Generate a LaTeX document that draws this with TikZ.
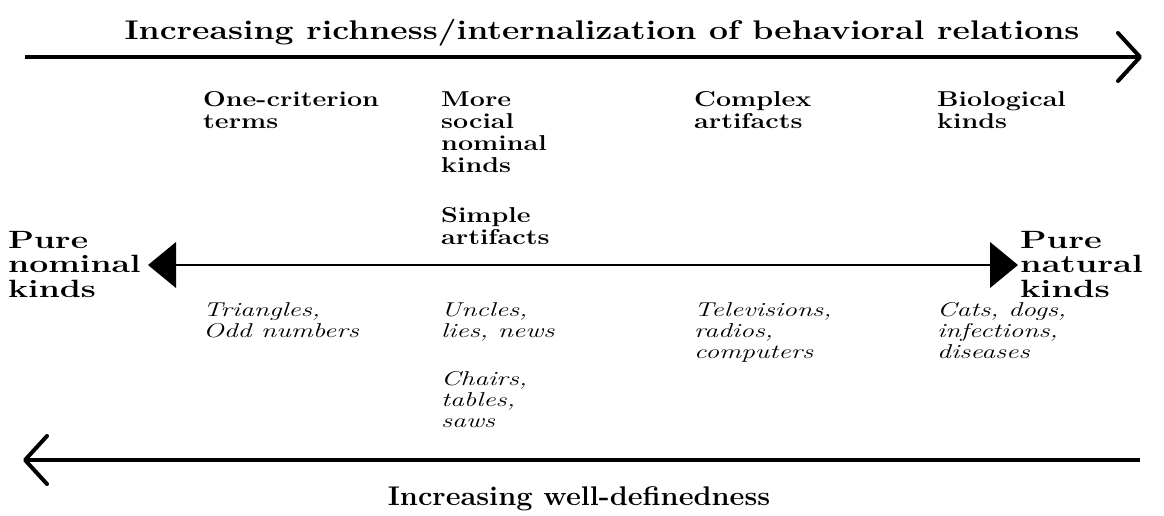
\documentclass[tikz,border=0pt]{standalone}
\usepackage{fontspec}
\usepackage{graphicx}
\usetikzlibrary{calc}
\newcommand{\blk}[2]{\scalebox{#1}[1]{\begin{tabular}[t]{@{}l@{}}#2\end{tabular}}}
\begin{document}
\begin{tikzpicture}[x=1pt,y=-1pt,
  txt/.style={inner sep=0pt, anchor=base west},
  bighead/.style={txt, font=\bfseries\fontsize{25}{24.5}\selectfont},
  colhead/.style={txt, font=\bfseries\fontsize{21.5}{22}\selectfont},
  example/.style={txt, font=\itshape\fontsize{20}{21}\selectfont},
  axislabel/.style={inner sep=0pt, anchor=base, font=\bfseries\fontsize{27}{29}\selectfont},
  thickaxis/.style={line width=4pt},
  openhead/.style={line width=4pt, line cap=round, line join=round},
  midaxis/.style={line width=2pt},
  tri/.style={fill=black}
]
\useasboundingbox (0,0) rectangle (1164,515);

% top axis
\coordinate (tl) at (25,57);
\coordinate (tr) at (1140,57);
\draw[thickaxis] (tl) -- (tr);
\draw[openhead] ($(tr)+(-22,-24)$) -- (tr) -- ($(tr)+(-22,24)$);
\node[axislabel] (ttl) at (602,39) {\scalebox{1.25}[1]{Increasing richness/internalization of behavioral relations}};

% bottom axis
\coordinate (bl) at (25,460);
\coordinate (br) at (1140,460);
\draw[thickaxis] (br) -- (bl);
\draw[openhead] ($(bl)+(22,-24)$) -- (bl) -- ($(bl)+(22,24)$);
\node[axislabel] (btl) at (579,505) {\scalebox{1.07}[1]{Increasing well-definedness}};

% middle axis
\coordinate (ml) at (148,265);
\coordinate (mr) at (1018,265);
\draw[midaxis] ($(ml)+(20,0)$) -- ($(mr)+(-20,0)$);
\fill[tri] (ml) -- ($(ml)+(28,-23)$) -- ($(ml)+(28,23)$) -- cycle;
\fill[tri] (mr) -- ($(mr)+(-28,-23)$) -- ($(mr)+(-28,23)$) -- cycle;

\node[bighead] (pnom) at (8,248) {\blk{1.35}{Pure\\nominal\\kinds}};
\node[bighead] (pnat) at (1020,248) {\blk{1.38}{Pure\\natural\\kinds}};

% column headings
\node[colhead] (h1) at (203,106) {\blk{1.25}{One-criterion\\terms}};
\node[colhead] (h2) at (441,106) {\blk{1.25}{More\\social\\nominal\\kinds}};
\node[colhead] (h2b) at (441,222) {\blk{1.25}{Simple\\artifacts}};
\node[colhead] (h3) at (694,106) {\blk{1.25}{Complex\\artifacts}};
\node[colhead] (h4) at (937,106) {\blk{1.25}{Biological\\kinds}};

% examples
\node[example] (e1) at (203,316) {\blk{1.38}{Triangles,\\Odd numbers}};
\node[example] (e2) at (441,316) {\blk{1.38}{Uncles,\\lies, news}};
\node[example] (e2b) at (441,385) {\blk{1.38}{Chairs,\\tables,\\saws}};
\node[example] (e3) at (694,316) {\blk{1.38}{Televisions,\\radios,\\computers}};
\node[example] (e4) at (937,316) {\blk{1.38}{Cats, dogs,\\infections,\\diseases}};
\end{tikzpicture}
\end{document}
